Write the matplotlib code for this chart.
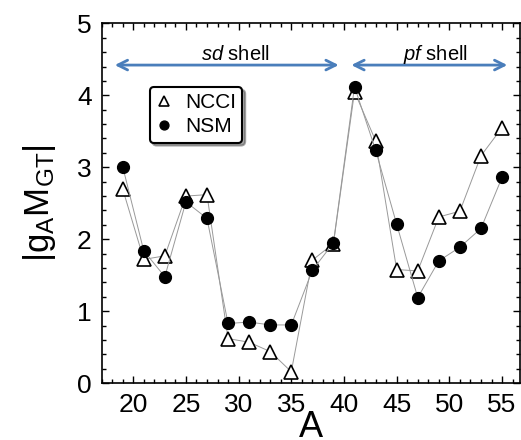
import matplotlib
matplotlib.use("Agg")
import matplotlib.pyplot as plt
from matplotlib.ticker import MultipleLocator

A = [19, 21, 23, 25, 27, 29, 31, 33, 35, 37, 39, 41, 43, 45, 47, 49, 51, 53, 55]
ncci = [2.70, 1.72, 1.77, 2.60, 2.62, 0.62, 0.57, 0.44, 0.16, 1.71, 1.94,
        4.05, 3.37, 1.58, 1.56, 2.31, 2.39, 3.16, 3.55]
nsm = [3.01, 1.84, 1.48, 2.52, 2.29, 0.83, 0.85, 0.81, 0.81, 1.57, 1.95,
       4.12, 3.24, 2.21, 1.19, 1.70, 1.89, 2.15, 2.86]
series_labels = ["NCCI", "NSM"]
regions = [("sd", 18.25, 39.5), ("pf", 40.7, 55.5)]

plt.rcParams['font.family'] = ['Liberation Sans', 'DejaVu Sans']
plt.rcParams['mathtext.fontset'] = 'custom'
plt.rcParams['mathtext.rm'] = 'Liberation Sans'
plt.rcParams['mathtext.it'] = 'Liberation Sans:italic'

fig = plt.figure(figsize=(5.21, 4.40), dpi=100)
ax = fig.add_axes([0.195, 0.129, 0.803, 0.818])

ax.plot(A, ncci, color='#999999', lw=0.7, marker='^', ms=9.5, mfc='white',
        mec='black', mew=1.2, label=series_labels[0], zorder=3)
ax.plot(A, nsm, color='#999999', lw=0.7, marker='o', ms=8.5, mfc='black',
        mec='black', label=series_labels[1], zorder=4)

ax.set_xlim(17, 56.7)
ax.set_ylim(0, 5)
ax.xaxis.set_major_locator(MultipleLocator(5))
ax.xaxis.set_minor_locator(MultipleLocator(1))
ax.yaxis.set_major_locator(MultipleLocator(1))
ax.yaxis.set_minor_locator(MultipleLocator(0.2))
ax.tick_params(which='both', direction='in', top=True, right=True, width=1)
ax.tick_params(which='major', length=5, labelsize=19)
ax.tick_params(axis='y', which='major', pad=7)
ax.tick_params(axis='x', which='major', pad=7)
ax.tick_params(which='minor', length=3)
for s in ax.spines.values():
    s.set_linewidth(1.2)

ax.set_xlabel('A', fontsize=26, labelpad=-5)
ax.set_ylabel(r'|g$_\mathregular{A}$M$_\mathregular{GT}$|', fontsize=25, labelpad=14)

arrow_color = '#4a7ebb'
for name, x0, x1 in regions:
    ax.annotate('', xy=(x1, 4.42), xytext=(x0, 4.42),
                arrowprops=dict(arrowstyle='<->,head_length=0.7,head_width=0.35',
                                color=arrow_color, lw=2, shrinkA=0, shrinkB=0))
    xc = 29.7 if name == 'sd' else 48.7
    ax.text(xc, 4.49, r'$\mathit{' + name + r'}$ shell', ha='center',
            va='baseline', fontsize=14.5)

leg = ax.legend(loc='upper left', bbox_to_anchor=(0.115, 0.823), borderaxespad=0,
                fontsize=15, frameon=True, fancybox=True, shadow=True,
                markerscale=0.75, handlelength=0.8, handletextpad=0.6,
                borderpad=0.3, labelspacing=0.25)
leg.get_frame().set_edgecolor('black')
leg.get_frame().set_linewidth(1.5)
for h in leg.legend_handles:
    h.set_linestyle('none')

fig.savefig('out.png', dpi=100)
